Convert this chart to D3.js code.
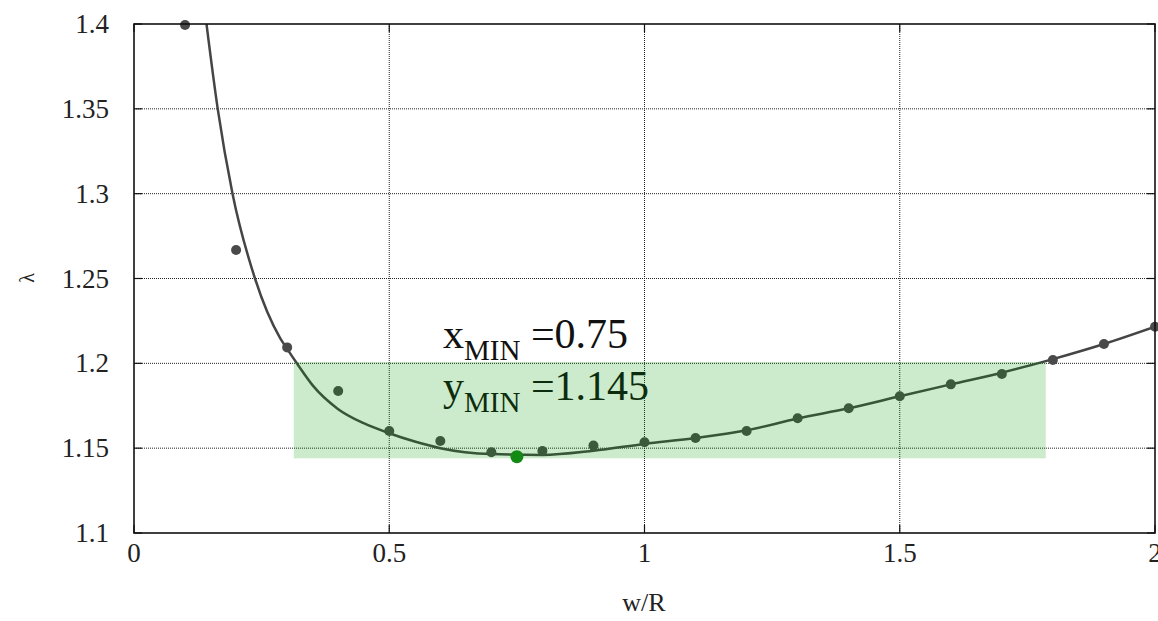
<!DOCTYPE html>
<html>
<head>
<meta charset="utf-8">
<script src="https://cdn.jsdelivr.net/npm/d3@7"></script>
<style>
  body { margin: 0; background: #fff; }
  svg { font-family: "Liberation Serif", "DejaVu Serif", serif; }
</style>
</head>
<body>
<svg id="chart" width="1158" height="621"></svg>
<script>
// measured points (w/R, lambda)
var ptX = [0.1, 0.2, 0.3, 0.4, 0.5, 0.6, 0.7, 0.8, 0.9, 1.0, 1.1, 1.2, 1.3, 1.4, 1.5, 1.6, 1.7, 1.8, 1.9, 2.0];
var ptY = [1.3994, 1.2668, 1.2094, 1.1837, 1.1601, 1.1542, 1.1476, 1.1483, 1.1515, 1.1535, 1.1560, 1.1601, 1.1676, 1.1735, 1.1806, 1.1876, 1.1937, 1.2020, 1.2114, 1.2216];

// fitted curve
var fitX = [0.142, 0.164, 0.193, 0.237, 0.286, 0.30, 0.319, 0.35, 0.4, 0.45, 0.5, 0.55, 0.6, 0.7, 0.8, 0.9, 1.0, 1.1, 1.2, 1.3, 1.4, 1.5, 1.6, 1.7, 1.8, 1.9, 2.0];
var fitY = [1.40, 1.35, 1.30, 1.25, 1.215, 1.2085, 1.20, 1.187, 1.173, 1.1647, 1.1588, 1.1539, 1.150, 1.1465, 1.146, 1.1485, 1.1525, 1.156, 1.1605, 1.1675, 1.1735, 1.1806, 1.1876, 1.1945, 1.2025, 1.2114, 1.2216];

// minimum and highlighted band
var minX = 0.75, minY = 1.145;
var bandX = [0.313, 1.786];
var bandY = [1.144, 1.2008];

var xTicks = [0, 0.5, 1, 1.5, 2];
var xTickLabels = ["0", "0.5", "1", "1.5", "2"];
var yTicks = [1.1, 1.15, 1.2, 1.25, 1.3, 1.35, 1.4];
var yTickLabels = ["1.1", "1.15", "1.2", "1.25", "1.3", "1.35", "1.4"];

function draw() {
  var svg = d3.select("#chart");
  var pl = 134, pr = 1155, pt = 24, pb = 533;

  var x = d3.scaleLinear().domain([0, 2]).range([pl, pr]);
  var y = d3.scaleLinear().domain([1.1, 1.4]).range([pb, pt]);

  // grid (dotted)
  var grid = svg.append("g");
  grid.selectAll("line.gx")
    .data(xTicks.filter(function(d) { return d > 0 && d < 2; }))
    .enter().append("line")
    .attr("x1", function(d) { return x(d); }).attr("x2", function(d) { return x(d); })
    .attr("y1", pt).attr("y2", pb)
    .style("stroke", "#222").style("stroke-width", 1).style("stroke-dasharray", "1,1");
  grid.selectAll("line.gy")
    .data(yTicks.filter(function(d) { return d > 1.1 && d < 1.4; }))
    .enter().append("line")
    .attr("y1", function(d) { return y(d); }).attr("y2", function(d) { return y(d); })
    .attr("x1", pl).attr("x2", pr)
    .style("stroke", "#222").style("stroke-width", 1).style("stroke-dasharray", "1,1");

  // tick marks inward on all sides
  var ticks = svg.append("g").style("stroke", "#111").style("stroke-width", 1.2);
  yTicks.forEach(function(d) {
    ticks.append("line").attr("x1", pl).attr("x2", pl + 8).attr("y1", y(d)).attr("y2", y(d));
    ticks.append("line").attr("x1", pr - 8).attr("x2", pr).attr("y1", y(d)).attr("y2", y(d));
  });
  xTicks.forEach(function(d) {
    ticks.append("line").attr("x1", x(d)).attr("x2", x(d)).attr("y1", pb).attr("y2", pb - 8);
    ticks.append("line").attr("x1", x(d)).attr("x2", x(d)).attr("y1", pt).attr("y2", pt + 8);
  });

  // tick labels
  svg.selectAll("text.yl")
    .data(yTicks).enter().append("text")
    .attr("x", pl - 25).attr("y", function(d) { return y(d) + 9; })
    .attr("text-anchor", "end").style("font-size", "27px").style("fill", "#222")
    .text(function(d, i) { return yTickLabels[i]; });
  svg.selectAll("text.xl")
    .data(xTicks).enter().append("text")
    .attr("x", function(d) { return x(d); }).attr("y", 562)
    .attr("text-anchor", "middle").style("font-size", "27px").style("fill", "#222")
    .text(function(d, i) { return xTickLabels[i]; });

  // axis titles
  svg.append("text").attr("x", 644).attr("y", 611).attr("text-anchor", "middle")
    .style("font-size", "26px").style("fill", "#222").text("w/R");
  svg.append("text").attr("transform", "translate(27,278) rotate(-90)")
    .attr("text-anchor", "middle").attr("dy", "0.35em")
    .style("font-size", "20px").style("fill", "#222").text("λ");

  // clip to plot area
  svg.append("clipPath").attr("id", "clip").append("rect")
    .attr("x", pl).attr("y", pt).attr("width", pr - pl).attr("height", pb - pt);

  // fit curve
  var fit = fitX.map(function(d, i) { return [d, fitY[i]]; });
  var line = d3.line()
    .x(function(d) { return x(d[0]); })
    .y(function(d) { return y(d[1]); })
    .curve(d3.curveMonotoneX);
  svg.append("path").datum(fit)
    .attr("clip-path", "url(#clip)")
    .attr("d", line)
    .style("fill", "none").style("stroke", "#454545").style("stroke-width", 2.5);

  // data points
  var pts = ptX.map(function(d, i) { return [d, ptY[i]]; });
  svg.selectAll("circle.pt").data(pts).enter().append("circle")
    .attr("cx", function(d) { return x(d[0]); })
    .attr("cy", function(d) { return y(d[1]); })
    .attr("r", 5).style("fill", "#4a4a4a");

  // annotation text
  var t1 = svg.append("text").attr("x", 443).attr("y", 348).style("font-size", "42px").style("fill", "#111");
  t1.append("tspan").text("x");
  t1.append("tspan").attr("dy", 12).style("font-size", "29px").text("MIN");
  t1.append("tspan").attr("dy", -12).text(" =0.75");
  var t2 = svg.append("text").attr("x", 443).attr("y", 400).style("font-size", "42px").style("fill", "#111");
  t2.append("tspan").text("y");
  t2.append("tspan").attr("dy", 12).style("font-size", "29px").text("MIN");
  t2.append("tspan").attr("dy", -12).text(" =1.145");

  // translucent band
  svg.append("rect")
    .attr("x", x(bandX[0])).attr("width", x(bandX[1]) - x(bandX[0]))
    .attr("y", y(bandY[1])).attr("height", y(bandY[0]) - y(bandY[1]))
    .style("fill", "rgb(0,150,0)").style("fill-opacity", 0.2);

  // minimum marker
  svg.append("circle").attr("cx", x(minX)).attr("cy", y(minY)).attr("r", 6.5).style("fill", "#138a13");

  // frame
  svg.append("rect").attr("x", pl).attr("y", pt).attr("width", pr - pl).attr("height", pb - pt)
    .style("fill", "none").style("stroke", "#111").style("stroke-width", 1.6);
}

draw();
</script>
</body>
</html>
